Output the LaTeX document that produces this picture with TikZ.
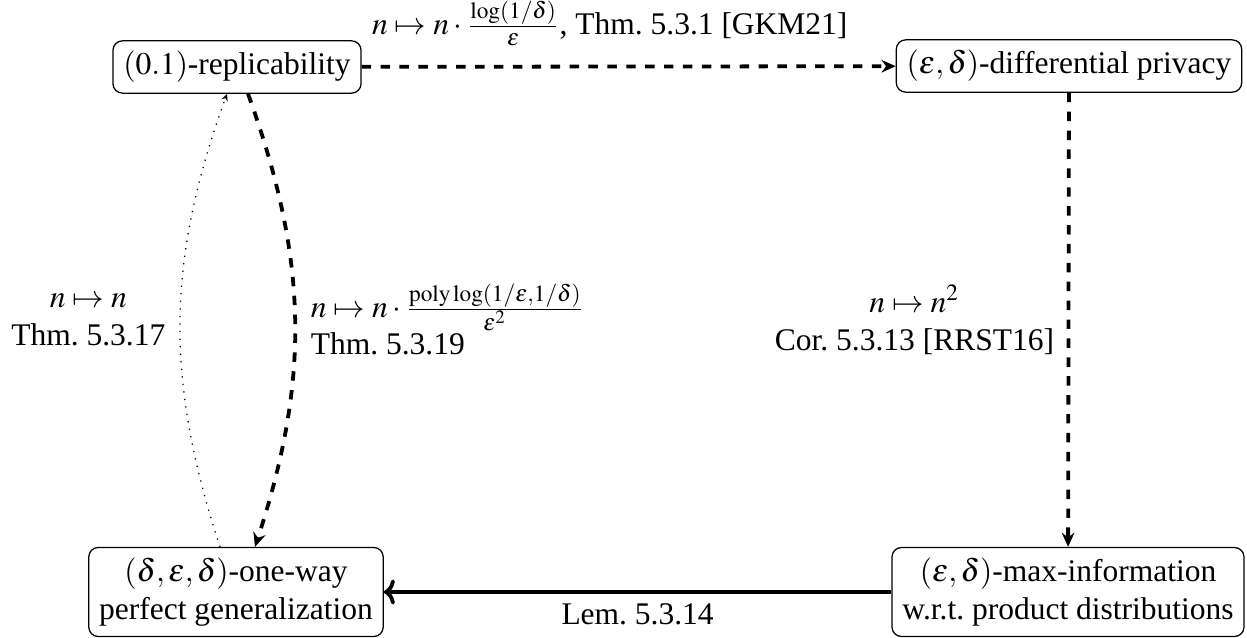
\documentclass[tikz,border=0pt]{standalone}
\usepackage{mathptmx}
\usepackage{fontspec}
\setmainfont{Liberation Serif}
\usetikzlibrary{arrows.meta}
\begin{document}
\begin{tikzpicture}[x=0.3175pt,y=-0.3175pt,
  box/.style={draw, rounded corners=3pt, align=center, inner sep=3.3pt, thin},
  dasharrow/.style={very thick, dashed, -{Stealth[length=4.5pt,width=4pt]}},
  dotarrow/.style={thin, dotted, -{Stealth[length=2.2pt,width=2pt]}},
  solidarrow/.style={very thick, -{Computer Modern Rightarrow[length=3.5pt,width=8pt]}},
  lbl/.style={align=center, inner sep=3pt}]
\useasboundingbox (0,0) rectangle (1247,638);
\node[box] (A) at (237,67) {$(0.1)$-replicability};
\node[box] (B) at (1069,66) {$(\varepsilon,\delta)$-differential privacy};
\node[box] (C) at (236,592) {$(\delta,\varepsilon,\delta)$-one-way\\perfect generalization};
\node[box] (D) at (1068,592) {$(\varepsilon,\delta)$-max-information\\w.r.t.\ product distributions};
\draw[dasharrow] (A) -- node[lbl, above=3pt, xshift=-6pt] {$n\mapsto n\cdot\frac{\log(1/\delta)}{\varepsilon}$, Thm.~5.3.1 [GKM21]} (B);
\draw[dasharrow] (B) -- node[lbl, left=1pt] {$n\mapsto n^2$\\Cor.~5.3.13 [RRST16]} (D);
\draw[solidarrow] (D) -- node[lbl, below] {Lem.~5.3.14} (C);
\draw[dasharrow] ([shift={(11,0)}]A.south) to[bend left=19] node[lbl, right=1.5pt, align=left] {$n\mapsto n\cdot\frac{\mathrm{poly}\log(1/\varepsilon,1/\delta)}{\varepsilon^2}$\\Thm.~5.3.19} ([shift={(19,0)}]C.north);
\draw[dotarrow] ([shift={(-16,0)}]C.north) to[bend left=19] node[lbl, left=1.5pt] {$n\mapsto n$\\Thm.~5.3.17} ([shift={(-10,0)}]A.south);
\end{tikzpicture}
\end{document}
